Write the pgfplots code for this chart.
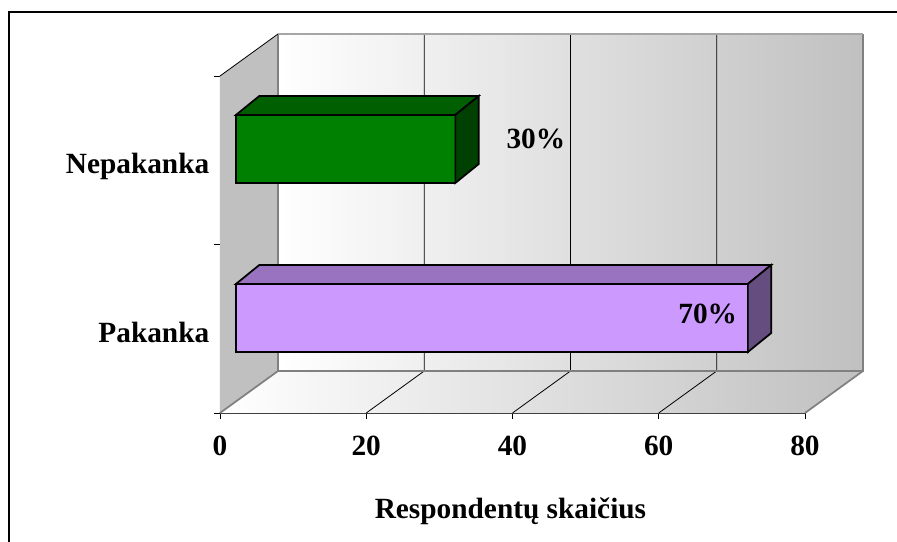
\documentclass[border=0pt]{standalone}
\usepackage{fontspec}
\setmainfont{Liberation Serif}
\usepackage{pgfplots}
\pgfplotsset{compat=1.18}
\definecolor{wallgray}{HTML}{C0C0C0}
\definecolor{edgegray}{HTML}{808080}
\definecolor{barG}{HTML}{008000}
\definecolor{barGt}{HTML}{005F00}
\definecolor{barGs}{HTML}{004000}
\definecolor{barP}{HTML}{CC99FF}
\definecolor{barPt}{HTML}{9973BF}
\definecolor{barPs}{HTML}{664D80}
\newcommand{\chartfont}{\fontsize{22}{26}\selectfont\bfseries}
\begin{document}
\begin{tikzpicture}[x=0.75pt,y=0.75pt]
\useasboundingbox (-220,-129) rectangle (677,413);
\begin{axis}[
  at={(0,0)}, anchor=origin,
  scale only axis, width=438.75pt, height=252.75pt,
  xmin=0, xmax=80, ymin=0, ymax=2,
  clip=false,
  axis lines=left,
  axis line style={-},
  x axis line style={color=black!75,line width=0.9pt},
  y axis line style={color=black,line width=0.6pt},
  xtick={0,20,40,60,80},
  ytick={0,1,2}, yticklabels={},
  extra y ticks={0.475,1.465},
  extra y tick labels={Pakanka,Nepakanka},
  extra y tick style={major tick length=0pt, ticklabel style={xshift=-4.5pt}},
  tick style={color=black,line width=0.6pt},
  major tick length=4.5pt,
  tick align=outside,
  /pgf/number format/assume math mode=true,
  ticklabel style={font=\chartfont,text=black},
  xticklabel style={yshift=-9pt},
  xlabel={Respondentų skaičius},
  xlabel style={font=\chartfont,yshift=-24.5pt,xshift=-1.5pt},
]
% back wall
\addplot[shade,left color=white,right color=wallgray,draw=none,mark=none]
  coordinates {(7.932,0.2493)(87.932,0.2493)(87.932,2.2493)(7.932,2.2493)} -- cycle;
% floor
\addplot[shade,left color=white,right color=wallgray,draw=none,mark=none]
  coordinates {(0,0)(80,0)(87.932,0.2493)(7.932,0.2493)} -- cycle;
% left wall
\addplot[fill=wallgray,draw=none,mark=none]
  coordinates {(0,0)(7.932,0.2493)(7.932,2.2493)(0,2)} -- cycle;
% grid
\addplot[black,line width=0.6pt,mark=none] coordinates {(20,0)(27.932,0.2493)(27.932,2.2493)};
\addplot[black,line width=0.6pt,mark=none] coordinates {(40,0)(47.932,0.2493)(47.932,2.2493)};
\addplot[black,line width=0.6pt,mark=none] coordinates {(60,0)(67.932,0.2493)(67.932,2.2493)};
% wall edges
\addplot[edgegray,line width=1.3pt,mark=none] coordinates {(0,0)(7.932,0.2493)(7.932,2.2493)};
\addplot[edgegray,line width=1.3pt,mark=none] coordinates {(7.932,0.2493)(87.932,0.2493)(87.932,2.2493)};
\addplot[edgegray!70,line width=1.3pt,mark=none] coordinates {(7.932,2.2493)(87.932,2.2493)};
\addplot[edgegray,line width=1.3pt,mark=none] coordinates {(80,0)(87.932,0.2493)};
\addplot[black,line width=0.6pt,mark=none] coordinates {(0,2)(7.932,2.2493)};
% Nepakanka bar: 30
\addplot[fill=barG,draw=black,line width=1.3pt,mark=none]
  coordinates {(2.188,1.365)(32.188,1.365)(32.188,1.769)(2.188,1.769)} -- cycle;
\addplot[fill=barGt,draw=black,line width=1.3pt,mark=none]
  coordinates {(2.188,1.769)(32.188,1.769)(35.388,1.8818)(5.388,1.8818)} -- cycle;
\addplot[fill=barGs,draw=black,line width=1.3pt,mark=none]
  coordinates {(32.188,1.365)(35.388,1.4778)(35.388,1.8818)(32.188,1.769)} -- cycle;
% Pakanka bar: 70
\addplot[fill=barP,draw=black,line width=1.3pt,mark=none]
  coordinates {(2.188,0.362)(72.188,0.362)(72.188,0.766)(2.188,0.766)} -- cycle;
\addplot[fill=barPt,draw=black,line width=1.3pt,mark=none]
  coordinates {(2.188,0.766)(72.188,0.766)(75.388,0.8788)(5.388,0.8788)} -- cycle;
\addplot[fill=barPs,draw=black,line width=1.3pt,mark=none]
  coordinates {(72.188,0.362)(75.388,0.4748)(75.388,0.8788)(72.188,0.766)} -- cycle;
\node[font=\chartfont] at (axis cs:43.2,1.626) {30\%};
\node[font=\chartfont] at (axis cs:66.7,0.588) {70\%};
\end{axis}
\draw[black,line width=1.5pt] (-211,-129) -- (-211,401) -- (677,401);
\end{tikzpicture}
\end{document}
